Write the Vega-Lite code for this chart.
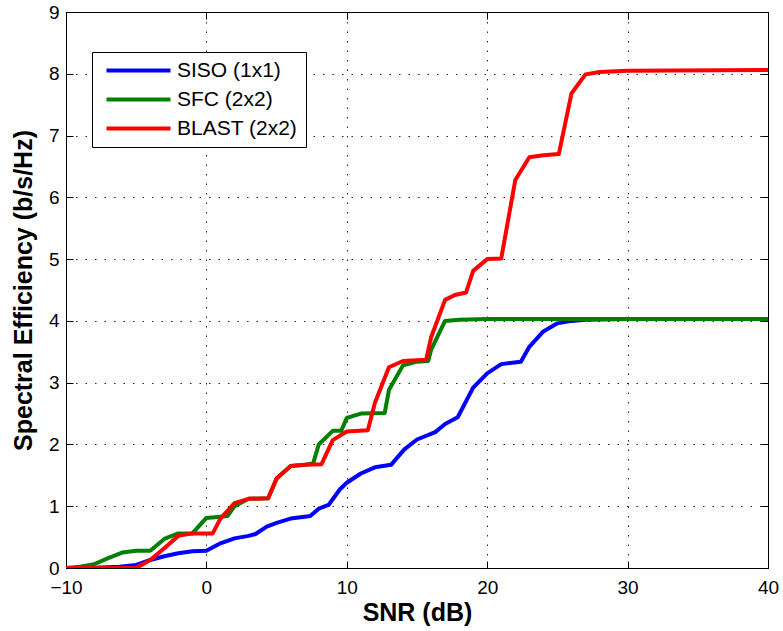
{
  "$schema": "https://vega.github.io/schema/vega-lite/v6.json",
  "width": 702,
  "height": 556,
  "autosize": {"type": "none"},
  "padding": {"left": 66, "top": 12, "right": 15, "bottom": 63},
  "background": "white",
  "config": {
    "font": "Liberation Sans",
    "view": {"stroke": "black", "strokeWidth": 1},
    "axis": {
      "domainColor": "black",
      "tickColor": "black",
      "labelColor": "black",
      "titleColor": "black",
      "labelFont": "Liberation Sans",
      "titleFont": "Liberation Sans",
      "labelFontSize": 19,
      "titleFontSize": 25,
      "titleFontWeight": "bold",
      "gridColor": "black",
      "gridDash": [1.5, 8],
      "gridOpacity": 0.85,
      "gridWidth": 1
    }
  },
  "data": {
    "values": [
      {"s":"SISO (1x1)","x":-10,"y":0},{"s":"SISO (1x1)","x":-8,"y":0.005},{"s":"SISO (1x1)","x":-6.2,"y":0.02},{"s":"SISO (1x1)","x":-5,"y":0.05},{"s":"SISO (1x1)","x":-4,"y":0.13},{"s":"SISO (1x1)","x":-3,"y":0.19},{"s":"SISO (1x1)","x":-2,"y":0.24},{"s":"SISO (1x1)","x":-1,"y":0.27},{"s":"SISO (1x1)","x":0,"y":0.28},{"s":"SISO (1x1)","x":1,"y":0.4},{"s":"SISO (1x1)","x":2,"y":0.48},{"s":"SISO (1x1)","x":3,"y":0.52},{"s":"SISO (1x1)","x":3.5,"y":0.55},{"s":"SISO (1x1)","x":4.3,"y":0.67},{"s":"SISO (1x1)","x":5,"y":0.73},{"s":"SISO (1x1)","x":6,"y":0.8},{"s":"SISO (1x1)","x":7,"y":0.83},{"s":"SISO (1x1)","x":7.4,"y":0.84},{"s":"SISO (1x1)","x":8,"y":0.96},{"s":"SISO (1x1)","x":8.7,"y":1.02},{"s":"SISO (1x1)","x":9.5,"y":1.27},{"s":"SISO (1x1)","x":10,"y":1.38},{"s":"SISO (1x1)","x":11,"y":1.53},{"s":"SISO (1x1)","x":12,"y":1.63},{"s":"SISO (1x1)","x":13.15,"y":1.67},{"s":"SISO (1x1)","x":14.1,"y":1.92},{"s":"SISO (1x1)","x":15,"y":2.08},{"s":"SISO (1x1)","x":16.3,"y":2.2},{"s":"SISO (1x1)","x":17,"y":2.33},{"s":"SISO (1x1)","x":17.9,"y":2.44},{"s":"SISO (1x1)","x":19,"y":2.92},{"s":"SISO (1x1)","x":20,"y":3.15},{"s":"SISO (1x1)","x":21,"y":3.3},{"s":"SISO (1x1)","x":22.4,"y":3.34},{"s":"SISO (1x1)","x":23,"y":3.58},{"s":"SISO (1x1)","x":24,"y":3.83},{"s":"SISO (1x1)","x":25,"y":3.96},{"s":"SISO (1x1)","x":26,"y":4.0},{"s":"SISO (1x1)","x":27,"y":4.02},{"s":"SISO (1x1)","x":30,"y":4.03},{"s":"SISO (1x1)","x":40,"y":4.03},
      {"s":"SFC (2x2)","x":-10,"y":0},{"s":"SFC (2x2)","x":-9,"y":0.02},{"s":"SFC (2x2)","x":-8,"y":0.06},{"s":"SFC (2x2)","x":-7,"y":0.16},{"s":"SFC (2x2)","x":-6,"y":0.25},{"s":"SFC (2x2)","x":-5,"y":0.28},{"s":"SFC (2x2)","x":-4,"y":0.28},{"s":"SFC (2x2)","x":-3,"y":0.47},{"s":"SFC (2x2)","x":-2,"y":0.56},{"s":"SFC (2x2)","x":-1,"y":0.56},{"s":"SFC (2x2)","x":0,"y":0.81},{"s":"SFC (2x2)","x":1,"y":0.83},{"s":"SFC (2x2)","x":1.5,"y":0.84},{"s":"SFC (2x2)","x":2,"y":1.0},{"s":"SFC (2x2)","x":3,"y":1.12},{"s":"SFC (2x2)","x":4.4,"y":1.13},{"s":"SFC (2x2)","x":5,"y":1.45},{"s":"SFC (2x2)","x":6,"y":1.65},{"s":"SFC (2x2)","x":7,"y":1.67},{"s":"SFC (2x2)","x":7.6,"y":1.69},{"s":"SFC (2x2)","x":8,"y":2.0},{"s":"SFC (2x2)","x":9,"y":2.22},{"s":"SFC (2x2)","x":9.6,"y":2.22},{"s":"SFC (2x2)","x":10,"y":2.43},{"s":"SFC (2x2)","x":11,"y":2.5},{"s":"SFC (2x2)","x":12.7,"y":2.51},{"s":"SFC (2x2)","x":13,"y":2.88},{"s":"SFC (2x2)","x":14,"y":3.28},{"s":"SFC (2x2)","x":15,"y":3.34},{"s":"SFC (2x2)","x":15.8,"y":3.35},{"s":"SFC (2x2)","x":16,"y":3.53},{"s":"SFC (2x2)","x":17,"y":4.0},{"s":"SFC (2x2)","x":18,"y":4.02},{"s":"SFC (2x2)","x":20,"y":4.03},{"s":"SFC (2x2)","x":40,"y":4.03},
      {"s":"BLAST (2x2)","x":-10,"y":0},{"s":"BLAST (2x2)","x":-5,"y":0},{"s":"BLAST (2x2)","x":-4,"y":0.13},{"s":"BLAST (2x2)","x":-3,"y":0.32},{"s":"BLAST (2x2)","x":-2,"y":0.52},{"s":"BLAST (2x2)","x":-1,"y":0.56},{"s":"BLAST (2x2)","x":0.45,"y":0.56},{"s":"BLAST (2x2)","x":1,"y":0.8},{"s":"BLAST (2x2)","x":2,"y":1.05},{"s":"BLAST (2x2)","x":3,"y":1.12},{"s":"BLAST (2x2)","x":4.4,"y":1.13},{"s":"BLAST (2x2)","x":5,"y":1.45},{"s":"BLAST (2x2)","x":6,"y":1.65},{"s":"BLAST (2x2)","x":7,"y":1.67},{"s":"BLAST (2x2)","x":8.2,"y":1.68},{"s":"BLAST (2x2)","x":9,"y":2.07},{"s":"BLAST (2x2)","x":10,"y":2.21},{"s":"BLAST (2x2)","x":11.5,"y":2.23},{"s":"BLAST (2x2)","x":12,"y":2.67},{"s":"BLAST (2x2)","x":13,"y":3.25},{"s":"BLAST (2x2)","x":14,"y":3.35},{"s":"BLAST (2x2)","x":15.65,"y":3.37},{"s":"BLAST (2x2)","x":16,"y":3.73},{"s":"BLAST (2x2)","x":17,"y":4.34},{"s":"BLAST (2x2)","x":17.7,"y":4.42},{"s":"BLAST (2x2)","x":18.5,"y":4.46},{"s":"BLAST (2x2)","x":19,"y":4.81},{"s":"BLAST (2x2)","x":20,"y":5.0},{"s":"BLAST (2x2)","x":21,"y":5.01},{"s":"BLAST (2x2)","x":22,"y":6.28},{"s":"BLAST (2x2)","x":23,"y":6.65},{"s":"BLAST (2x2)","x":24,"y":6.68},{"s":"BLAST (2x2)","x":25.1,"y":6.7},{"s":"BLAST (2x2)","x":26,"y":7.68},{"s":"BLAST (2x2)","x":27,"y":7.99},{"s":"BLAST (2x2)","x":28,"y":8.03},{"s":"BLAST (2x2)","x":30,"y":8.05},{"s":"BLAST (2x2)","x":40,"y":8.06}
    ]
  },
  "layer": [
    {
      "mark": {"type": "line", "strokeWidth": 4, "strokeJoin": "round", "clip": true},
      "encoding": {
        "x": {
          "field": "x", "type": "quantitative",
          "scale": {"domain": [-10, 40], "nice": false, "zero": false},
          "axis": {"orient": "bottom", "title": "SNR (dB)", "values": [-10, 0, 10, 20, 30, 40], "grid": true, "tickSize": -7, "labelPadding": 17, "titlePadding": 3, "labelFlush": false, "labelOverlap": false}
        },
        "y": {
          "field": "y", "type": "quantitative",
          "scale": {"domain": [0, 9], "nice": false, "zero": false},
          "axis": {"orient": "left", "title": "Spectral Efficiency (b/s/Hz)", "values": [0, 1, 2, 3, 4, 5, 6, 7, 8, 9], "grid": true, "tickSize": -7, "labelPadding": 14, "titlePadding": 12, "labelFlush": false, "labelOverlap": false}
        },
        "color": {
          "field": "s", "type": "nominal",
          "scale": {"domain": ["SISO (1x1)", "SFC (2x2)", "BLAST (2x2)"], "range": ["#0000ff", "#008000", "#ff0000"]},
          "legend": {
            "orient": "none", "legendX": 26, "legendY": 40, "title": null,
            "symbolType": "M0,0H8", "symbolSize": 256, "symbolStrokeWidth": 4, "symbolOffset": -4,
            "labelOffset": 60, "labelFontSize": 21, "labelFont": "Liberation Sans", "labelColor": "black",
            "padding": 8, "rowPadding": 7, "strokeColor": "black", "fillColor": "white"
          }
        }
      }
    },
    {
      "mark": {"type": "line", "strokeOpacity": 0},
      "encoding": {
        "x": {
          "field": "x", "type": "quantitative",
          "scale": {"domain": [-10, 40], "nice": false, "zero": false},
          "axis": {"orient": "top", "title": null, "values": [-10, 0, 10, 20, 30, 40], "grid": false, "labels": false, "tickSize": -7, "domain": false}
        },
        "y": {
          "field": "y", "type": "quantitative",
          "scale": {"domain": [0, 9], "nice": false, "zero": false},
          "axis": {"orient": "right", "title": null, "values": [0, 1, 2, 3, 4, 5, 6, 7, 8, 9], "grid": false, "labels": false, "tickSize": -7, "domain": false}
        },
        "detail": {"field": "s"}
      }
    }
  ],
  "resolve": {"axis": {"x": "independent", "y": "independent"}}
}
